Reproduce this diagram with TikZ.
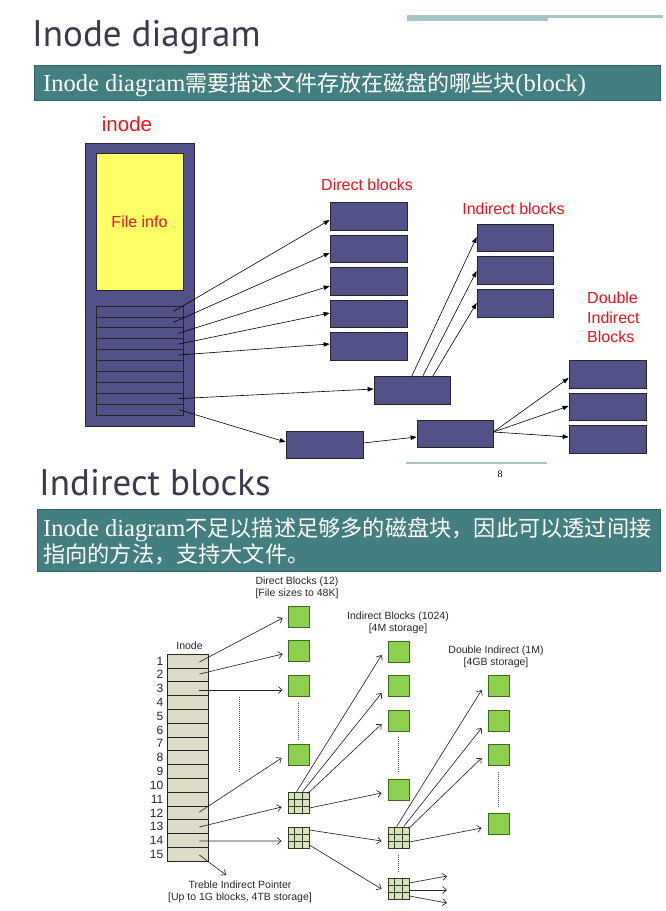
\documentclass[tikz,border=0pt]{standalone}
\usepackage{fontspec}
\setmainfont{Liberation Serif}
\newfontfamily\arialf{Liberation Sans}
\newfontfamily\titlef{PT Sans}
\newfontfamily\cjk{Noto Sans CJK SC}
\newcommand\cjktxt[1]{{\cjk\fontsize{22}{26}\selectfont #1}}
\usetikzlibrary{calc,arrows.meta}
\definecolor{tealbg}{HTML}{437E80}
\definecolor{tealbd}{HTML}{2F6466}
\definecolor{slate}{HTML}{525289}
\definecolor{yel}{HTML}{FFFF66}
\definecolor{redl}{HTML}{E8141B}
\definecolor{barc}{HTML}{A7C5C9}
\definecolor{gsqf}{HTML}{8DCF4E}
\definecolor{gsqb}{HTML}{3F6B1F}
\definecolor{ggrid}{HTML}{D7E4BD}
\definecolor{gline}{HTML}{2E3B1F}
\definecolor{titlec}{HTML}{3B3B4D}
\definecolor{islotf}{HTML}{DDDCC8}
\begin{document}
\begin{tikzpicture}[x=1pt,y=-1pt,
  titletext/.style={font=\titlef\fontsize{37}{40}\selectfont, text=titlec, inner sep=0pt},
  tealbox/.style={draw=tealbd, fill=tealbg, line width=0.6pt, inner sep=0pt},
  tealtext/.style={text=white, inner sep=0pt, font=\fontsize{24.5}{26}\selectfont, align=left},
  blk/.style={draw=black!85, line width=0.7pt, fill=slate, minimum width=77pt, minimum height=27.5pt, inner sep=0pt},
  slotbox/.style={draw=black!85, line width=0.7pt, fill=slate, minimum width=87pt, minimum height=10.9pt, inner sep=0pt},
  redlab/.style={text=redl, font=\arialf\fontsize{16}{19.5}\selectfont, inner sep=0pt},
  tarr/.style={-{Triangle[length=6pt,width=4.5pt]}, line width=0.6pt, black},
  greensq/.style={draw=gsqb, fill=gsqf, line width=0.7pt, minimum size=21pt, inner sep=0pt},
  gridsq/.style={draw=gline, fill=ggrid, line width=0.8pt, minimum size=21pt, inner sep=0pt,
    path picture={
      \foreach \f in {0.333,0.667}{
        \draw[gline, line width=1pt] ($(path picture bounding box.north west)!\f!(path picture bounding box.north east)$) -- ($(path picture bounding box.south west)!\f!(path picture bounding box.south east)$);
        \draw[gline, line width=1pt] ($(path picture bounding box.north west)!\f!(path picture bounding box.south west)$) -- ($(path picture bounding box.north east)!\f!(path picture bounding box.south east)$);
      }}},
  islot/.style={draw=black!85, line width=0.8pt, fill=islotf, minimum width=41pt, minimum height=13.8pt, inner sep=0pt},
  numlab/.style={font=\arialf\fontsize{12}{13}\selectfont, text=black!85, inner sep=0pt},
  blab/.style={font=\arialf\fontsize{10.5}{12}\selectfont, text=black!85, align=center, inner sep=0pt},
  barr/.style={-{Straight Barb[length=4pt,width=7pt]}, line width=0.65pt, black!85},
  dotline/.style={dash pattern=on 1pt off 1pt, line width=0.8pt, black!70}
]
\useasboundingbox (0,0) rectangle (666,911);
\fill[white] (0,0) rectangle (666,911);

% ---------- header 1 ----------
\fill[barc] (407,15) rectangle (548,21);
\fill[barc] (548,15) rectangle (663,18);
\node[titletext, anchor=base west] (t1) at (32,46) {Inode diagram};
\node[tealbox, minimum width=626pt, minimum height=35pt] (hb1) at (347,82.5) {};
\node[tealtext, anchor=base west] (ht1) at (43,91) {Inode diagram\cjktxt{需要描述文件存放在磁盘的哪些块}(block)};

% ---------- top diagram ----------
\node[redlab, anchor=base, font=\arialf\fontsize{20.5}{22}\selectfont] (inl) at (127,131) {inode};
\node[draw=black!85, line width=0.7pt, fill=slate, minimum width=109pt, minimum height=283pt, inner sep=0pt] (ino) at (139.5,284.5) {};
\node[draw=black!85, line width=0.7pt, fill=yel, minimum width=87pt, minimum height=137pt, inner sep=0pt] (fi) at (139.5,221.5) {};
\node[redlab, anchor=base] (fil) at (139.5,227.5) {File info};
\foreach \i in {1,...,10}{
  \node[slotbox] (s\i) at (139.5,{306+10.9*(\i-0.5)}) {};
}
\foreach \i in {1,...,5}{
  \node[blk] (d\i) at (368.5,{216.5+32.5*(\i-1)}) {};
}
\node[redlab, anchor=base] (dbl) at (367,190) {Direct blocks};
\node[blk, minimum width=76pt] (i1) at (515,238) {};
\node[blk, minimum width=76pt] (i2) at (515,270.5) {};
\node[blk, minimum width=76pt] (i3) at (515,303.5) {};
\node[redlab, anchor=base] (ibl) at (513.5,214) {Indirect blocks};
\node[blk, minimum width=76pt] (sb) at (412,390.5) {};
\node[blk] (db1) at (324.5,445) {};
\node[blk, minimum width=76pt] (db2) at (455,434) {};
\node[blk] (dd1) at (607.5,374.5) {};
\node[blk] (dd2) at (607.5,407) {};
\node[blk] (dd3) at (607.5,439.5) {};
\node[redlab, anchor=north west, align=left] (ddl) at (587,292) {Double\\Indirect\\Blocks};

\draw[tarr] ($(s1.east)+(-10,0)$) -- ($(d1.west)+(0,3.5)$);
\draw[tarr] ($(s2.east)+(-10,0)$) -- ($(d2.west)+(0,4)$);
\draw[tarr] ($(s3.east)+(-5,0)$) -- ($(d3.west)+(0,4.5)$);
\draw[tarr] ($(s4.east)+(-5,0)$) -- ($(d4.west)+(0,-1)$);
\draw[tarr] ($(s5.east)+(-5,0)$) -- ($(d5.west)+(0,-2.5)$);
\draw[tarr] ($(s9.east)+(-5,0)$) -- ($(sb.west)+(0,-1.5)$);
\draw[tarr] ($(s10.east)+(-5,0)$) -- ($(db1.west)+(0,-3)$);
\draw[tarr] ($(sb.north west)+(38,0)$) -- ($(i1.west)+(0,-1)$);
\draw[tarr] ($(sb.north west)+(49,0)$) -- ($(i2.west)+(0,0.5)$);
\draw[tarr] ($(sb.north west)+(59,0)$) -- ($(i3.west)+(0,-0.5)$);
\draw[tarr] ($(db1.east)+(0,-2)$) -- ($(db2.west)+(0,3)$);
\draw[tarr] ($(db2.east)+(0,-2)$) -- ($(dd1.west)+(0,3.5)$);
\draw[tarr] ($(db2.east)+(0,-2)$) -- ($(dd2.west)+(0,-1)$);
\draw[tarr] ($(db2.east)+(0,-2)$) -- ($(dd3.west)+(0,-2.5)$);

% page footer
\draw[barc, line width=2pt] (406,463) -- (547,463);
\node[font=\fontsize{10}{12}\selectfont, inner sep=0pt] (pg) at (500,474) {8};

% ---------- header 2 ----------
\node[titletext, anchor=base west] (t2) at (39,495) {Indirect blocks};
\node[tealbox, minimum width=623pt, minimum height=62pt] (hb2) at (348.5,540) {};
\node[tealtext, anchor=base west] (ht2a) at (43,536) {Inode diagram{\cjk\fontsize{22.2}{26}\selectfont 不足以描述足够多的磁盘块，因此可以透过间接}};
\node[tealtext, anchor=base west] (ht2b) at (43,562) {{\cjk\fontsize{22.2}{26}\selectfont 指向的方法，支持大文件。}};

% ---------- bottom diagram ----------
\node[blab, font=\arialf\fontsize{10.5}{12}\selectfont] (inl2) at (189.5,646) {Inode};
\foreach \k in {1,...,15}{
  \node[islot] (n\k) at (187.5,{661+13.8*(\k-1)}) {};
  \node[numlab, anchor=east] (l\k) at (163.5,{661+13.8*(\k-1)}) {\k};
}
\node[blab] (dlab) at (297,588) {Direct Blocks (12)\\{}[File sizes to 48K]};
\node[blab] (rlab) at (398,623) {Indirect Blocks (1024)\\{}[4M storage]};
\node[blab] (ulab) at (496,657) {Double Indirect (1M)\\{}[4GB storage]};
\node[blab] (tlab) at (240,892) {Treble Indirect Pointer\\{}[Up to 1G blocks, 4TB storage]};

\node[greensq] (q1) at (298.5,616.5) {};
\node[greensq] (q2) at (298.5,651) {};
\node[greensq] (q3) at (298.5,685.5) {};
\node[greensq] (q4) at (298.5,754.5) {};
\node[gridsq] (gA) at (298.5,802.5) {};
\node[gridsq] (gB) at (298.5,837.5) {};

\node[greensq] (r1) at (398.5,651.5) {};
\node[greensq] (r2) at (398.5,685.5) {};
\node[greensq] (r3) at (398.5,720.5) {};
\node[greensq] (r4) at (398.5,789.5) {};
\node[gridsq] (gC) at (398.5,837.5) {};
\node[gridsq] (gD) at (398.5,888.5) {};

\node[greensq] (u1) at (498.5,685.5) {};
\node[greensq] (u2) at (498.5,720.5) {};
\node[greensq] (u3) at (498.5,754.5) {};
\node[greensq] (u4) at (498.5,823.5) {};

\draw[dotline] ($(q3.south)+(0,7)$) -- ($(q4.north)+(0,-4)$);
\draw[dotline] ($(r3.south)+(0,6)$) -- ($(r4.north)+(0,-6)$);
\draw[dotline] ($(u3.south)+(0,7)$) -- ($(u4.north)+(0,-6)$);
\draw[dotline] ($(gC.south)+(0,7)$) -- ($(gD.north)+(0,-6)$);
\coordinate (mdA) at (239,697);
\coordinate (mdB) at (239,772);
\draw[dotline] (mdA) -- (mdB);

\coordinate (tp) at (226,875);
\coordinate (e1) at (447,876);
\coordinate (e2) at (447,890);
\coordinate (e3) at (447,903);

\draw[barr] ($(n1.east)+(-9,1)$) -- ($(q1.west)+(-5,1.5)$);
\draw[barr] ($(n2.east)+(-9,-0.7)$) -- ($(q2.west)+(-5,3)$);
\draw[barr] ($(n3.east)+(-9,1.4)$) -- ($(q3.west)+(-5,4.5)$);
\draw[barr] ($(n12.east)+(-9,-0.8)$) -- ($(q4.west)+(-6,3.5)$);
\draw[barr] ($(n13.east)+(-9,0.4)$) -- ($(gA.west)+(-6,4.5)$);
\draw[barr] ($(n14.east)+(-9,0.6)$) -- ($(gB.west)+(-6,3.5)$);
\draw[barr] ($(n15.east)+(-9,0.8)$) -- (tp);

\draw[barr] ($(gA.north west)+(9,0)$) -- ($(r1.west)+(-6,3.5)$);
\draw[barr] ($(gA.north west)+(15,0)$) -- ($(r2.west)+(-6,7.5)$);
\draw[barr] ($(gA.north west)+(20,2)$) -- ($(r3.west)+(-6,3.5)$);
\draw[barr] ($(gA.east)+(0,5.5)$) -- ($(r4.west)+(-6,3.5)$);
\draw[barr] ($(gB.east)+(0,-7.5)$) -- ($(gC.west)+(-6,3.5)$);
\draw[barr] ($(gB.east)+(0,7.5)$) -- ($(gD.west)+(-6,0.5)$);

\draw[barr] ($(gC.north west)+(9,0)$) -- ($(u1.west)+(-6,4.5)$);
\draw[barr] ($(gC.north west)+(16,0)$) -- ($(u2.west)+(-6,7.5)$);
\draw[barr] ($(gC.north west)+(21,2)$) -- ($(u3.west)+(-6,3.5)$);
\draw[barr] ($(gC.east)+(0,4.5)$) -- ($(u4.west)+(-6,4.5)$);

\draw[barr] ($(gD.east)+(0,-5.5)$) -- (e1);
\draw[barr] ($(gD.east)+(0,1.5)$) -- (e2);
\draw[barr] ($(gD.east)+(0,7.5)$) -- (e3);
\end{tikzpicture}
\end{document}
